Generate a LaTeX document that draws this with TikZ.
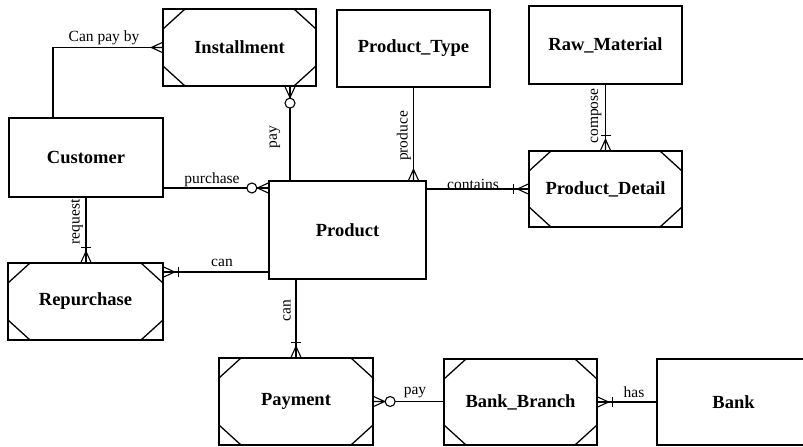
\documentclass[tikz,border=0pt]{standalone}
\usepackage{fontspec}
\setmainfont{Liberation Serif}
\begin{document}
\begin{tikzpicture}[x=1pt,y=1pt,
  ent/.style={draw, line width=1.3pt, minimum width=153pt, minimum height=77pt, inner sep=0pt,
    font=\fontsize{18.5}{20}\selectfont\bfseries},
  weak/.style={ent, path picture={
    \draw[line width=1.3pt]
     ([yshift=-20pt]path picture bounding box.north west) -- ([xshift=22pt]path picture bounding box.north west)
     ([yshift=-20pt]path picture bounding box.north east) -- ([xshift=-22pt]path picture bounding box.north east)
     ([yshift=20pt]path picture bounding box.south west) -- ([xshift=22pt]path picture bounding box.south west)
     ([yshift=20pt]path picture bounding box.south east) -- ([xshift=-22pt]path picture bounding box.south east);}},
  conn/.style={line width=1.3pt},
  lbl/.style={font=\fontsize{15.5}{17}\selectfont, inner sep=0pt},
  crow/.pic={\draw[line width=1.1pt] (0,-5)--(11,0) (0,0)--(11,0) (0,5)--(11,0);},
  bar/.pic={\draw[line width=1.1pt] (15,-5)--(15,5);},
  ring/.pic={\draw[line width=1.1pt, fill=white] (16.5,0) circle (5);}
]
\useasboundingbox[fill=white] (0,0) rectangle (803,447);

% entities
\node[weak] (inst) at (239.5,399.5) {Installment};
\node[ent] (ptype) at (413.5,398.5) {Product\_Type};
\node[ent, minimum height=78pt] (raw) at (605.5,402) {Raw\_Material};
\node[weak, minimum height=76pt] (pdet) at (605.5,258) {Product\_Detail};
\node[ent, minimum width=154pt, minimum height=79pt] (cust) at (86,289.5) {Customer};
\node[ent, minimum width=157pt, minimum height=98pt] (prod) at (347.5,217) {Product};
\node[weak, minimum width=155pt] (rep) at (85.5,145.5) {Repurchase};
\node[weak, minimum width=154pt, minimum height=87pt] (pay) at (296,45.5) {Payment};
\node[weak, minimum height=86pt] (bb) at (520.5,45) {Bank\_Branch};
\node[ent, minimum height=86pt] (bank) at (733.5,45) {Bank};

% Customer - Installment
\draw[conn] ([xshift=-33pt]cust.north) |- (inst.west);
\pic[rotate=180] at (inst.west) {crow};
\node[lbl] (lcan1) at (104,409) {Can pay by};

% Installment - Product
\coordinate (ip) at ([xshift=50.5pt]inst.south);
\draw[conn] (ip) -- (ip |- prod.north);
\pic[rotate=-90] at (ip) {crow};
\pic[rotate=-90] at (ip) {ring};
\node[lbl, rotate=90] (lpay1) at (275,310) {pay};

% Product_Type - Product
\draw[conn] (ptype.south) -- (ptype.south |- prod.north);
\pic[rotate=90] at (ptype.south |- prod.north) {crow};
\node[lbl, rotate=90] (lprod) at (404,311) {produce};

% Customer - Product
\coordinate (cp) at ([yshift=-30.5pt]cust.east);
\draw[conn] (cp) -- (cp -| prod.west);
\pic[rotate=180] at (cp -| prod.west) {crow};
\pic[rotate=180] at (cp -| prod.west) {ring};
\node[lbl] (lpur) at (212,267) {purchase};

% Product - Product_Detail
\draw[conn] (pdet.west -| prod.east) -- (pdet.west);
\pic[rotate=180] at (pdet.west) {crow};
\pic[rotate=180] at (pdet.west) {bar};
\node[lbl] (lcont) at (473,263) {contains};

% Raw_Material - Product_Detail
\draw[conn] (raw.south) -- (pdet.north);
\pic[rotate=90] at (pdet.north) {crow};
\pic[rotate=90] at (pdet.north) {bar};
\node[lbl, rotate=90] (lcomp) at (596,331) {compose};

% Customer - Repurchase
\draw[conn] (cust.south) -- (cust.south |- rep.north);
\pic[rotate=90] at (cust.south |- rep.north) {crow};
\pic[rotate=90] at (cust.south |- rep.north) {bar};
\node[lbl, rotate=90] (lreq) at (77,225) {request};

% Product - Repurchase
\coordinate (rp) at ([yshift=29.5pt]rep.east);
\draw[conn] (rp) -- (rp -| prod.west);
\pic at (rp) {crow};
\pic at (rp) {bar};
\node[lbl] (lcan2) at (222,184) {can};

% Product - Payment
\draw[conn] (pay.north |- prod.south) -- (pay.north);
\pic[rotate=90] at (pay.north) {crow};
\pic[rotate=90] at (pay.north) {bar};
\node[lbl, rotate=90] (lcan3) at (287,136) {can};

% Payment - Bank_Branch
\draw[conn] (pay.east) -- (pay.east -| bb.west);
\pic at (pay.east) {crow};
\pic at (pay.east) {ring};
\node[lbl] (lpay2) at (415,54) {pay};

% Bank_Branch - Bank
\draw[conn] (bb.east) -- (bb.east -| bank.west);
\pic at (bb.east) {crow};
\pic at (bb.east) {bar};
\node[lbl] (lhas) at (634,55) {has};
\end{tikzpicture}
\end{document}
